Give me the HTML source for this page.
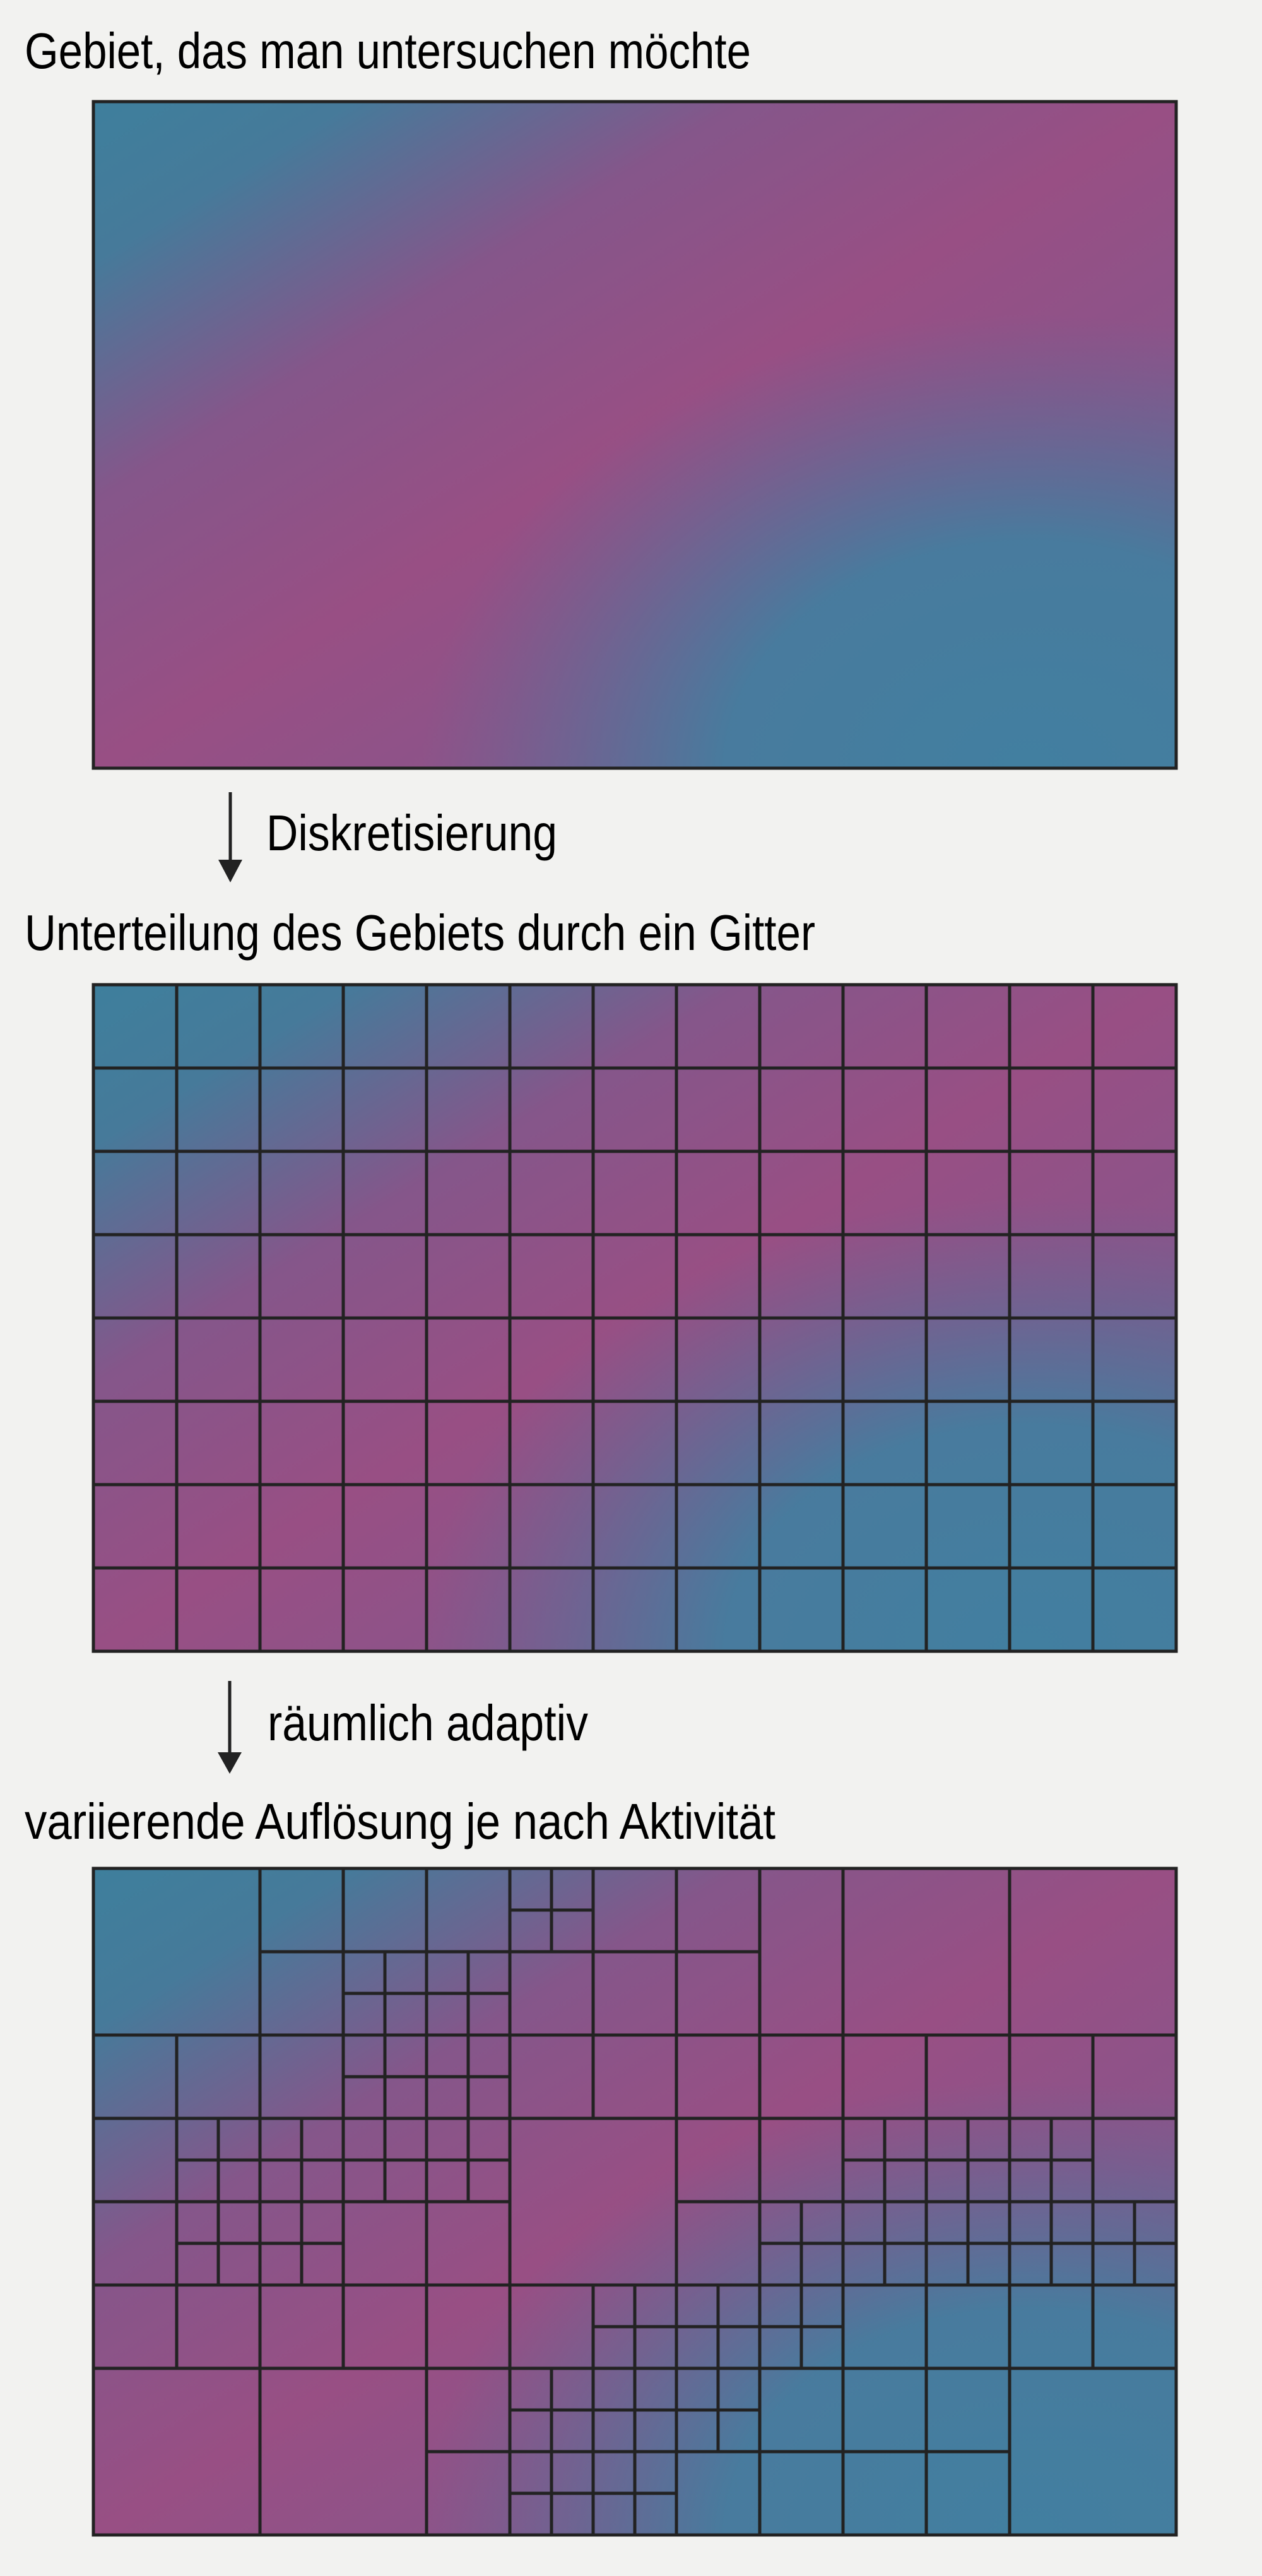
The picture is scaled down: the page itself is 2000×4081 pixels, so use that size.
<!DOCTYPE html>
<html><head><meta charset="utf-8"><style>
html,body{margin:0;padding:0;background:#f2f2f0;}
svg{display:block;}
text{font-family:"Liberation Sans Narrow","Liberation Sans",sans-serif;fill:#000;}
</style></head><body>
<svg width="2000" height="4081" viewBox="0 0 2000 4081" xmlns="http://www.w3.org/2000/svg">
<defs>
<linearGradient id="g" x1="0" y1="0" x2="1" y2="1">
<stop offset="0" stop-color="#3e7f9c"/>
<stop offset="0.12" stop-color="#467a9a"/>
<stop offset="0.3" stop-color="#85568a"/>
<stop offset="0.5" stop-color="#984f84"/>
<stop offset="0.7" stop-color="#8a548a"/>
<stop offset="1" stop-color="#6a6190"/>
</linearGradient>
<radialGradient id="r" gradientUnits="userSpaceOnUse" cx="0" cy="0" r="1" gradientTransform="translate(1480 1056) scale(960 720)">
<stop offset="0" stop-color="#427fa0" stop-opacity="1"/>
<stop offset="0.5" stop-color="#437e9f" stop-opacity="0.92"/>
<stop offset="1" stop-color="#5a6c96" stop-opacity="0"/>
</radialGradient>
</defs>
<rect width="2000" height="4081" fill="#f2f2f0"/>

<text x="39" y="108" font-size="80" textLength="1151" lengthAdjust="spacingAndGlyphs">Gebiet, das man untersuchen möchte</text>
<g transform="translate(148,161)">
<rect width="1716" height="1056" fill="url(#g)"/>
<rect width="1716" height="1056" fill="url(#r)"/>
<rect width="1716" height="1056" fill="none" stroke="#222" stroke-width="5"/>
</g>

<line x1="365" y1="1255" x2="365" y2="1370" stroke="#222" stroke-width="5"/>
<polygon points="346,1362 384,1362 365,1398" fill="#222"/>
<text x="422" y="1347" font-size="80" textLength="461" lengthAdjust="spacingAndGlyphs">Diskretisierung</text>

<text x="39" y="1505" font-size="80" textLength="1253" lengthAdjust="spacingAndGlyphs">Unterteilung des Gebiets durch ein Gitter</text>
<g transform="translate(148,1560)">
<rect width="1716" height="1056" fill="url(#g)"/>
<rect width="1716" height="1056" fill="url(#r)"/>
<path stroke="#222" stroke-width="5" fill="none" d="M132 0v1056M264 0v1056M396 0v1056M528 0v1056M660 0v1056M792 0v1056M924 0v1056M1056 0v1056M1188 0v1056M1320 0v1056M1452 0v1056M1584 0v1056M0 132h1716M0 264h1716M0 396h1716M0 528h1716M0 660h1716M0 792h1716M0 924h1716"/>
<rect width="1716" height="1056" fill="none" stroke="#222" stroke-width="5"/>
</g>

<line x1="364" y1="2663" x2="364" y2="2785" stroke="#222" stroke-width="5"/>
<polygon points="345,2776 383,2776 364,2810" fill="#222"/>
<text x="424" y="2757" font-size="80" textLength="508" lengthAdjust="spacingAndGlyphs">räumlich adaptiv</text>

<text x="39" y="2913" font-size="80" textLength="1190" lengthAdjust="spacingAndGlyphs">variierende Auflösung je nach Aktivität</text>
<g transform="translate(148,2960)" stroke="#222" stroke-width="5" fill="none">
<rect width="1716" height="1056" fill="url(#g)" stroke="none"/>
<rect width="1716" height="1056" fill="url(#r)" stroke="none"/>
<rect x="0" y="0" width="264" height="264"/>
<rect x="1188" y="0" width="264" height="264"/>
<rect x="1452" y="0" width="264" height="264"/>
<rect x="660" y="396" width="264" height="264"/>
<rect x="0" y="792" width="264" height="264"/>
<rect x="264" y="792" width="264" height="264"/>
<rect x="1452" y="792" width="264" height="264"/>
<path d="M264 0h792v264h-792zM396 0v264M528 0v264M660 0v264M792 0v264M924 0v264M264 132h792"/>
<path d="M0 264h1716M0 396h660M924 396h792M0 528h660M924 528h792M0 660h1716M0 792h1716"/>
<path d="M132 264v528M264 264v528M396 264v528M528 264v528M660 264v528M792 264v132M924 264v528M1056 264v528M1188 264v528M1320 264v528M1452 264v528M1584 264v528M792 660v132"/>
<path d="M528 792v264M660 792v264M792 792v264M924 792v264M1056 792v264M1188 792v264M1320 792v264M528 924h924"/>
<path d="M726 0v132M660 66h132
M462 132v132M396 198h132
M594 132v132M528 198h132
M462 264v132M396 330h132
M594 264v132M528 330h132
M198 396v132M132 462h132
M330 396v132M264 462h132
M462 396v132M396 462h132
M594 396v132M528 462h132
M1254 396v132M1188 462h132
M1386 396v132M1320 462h132
M1518 396v132M1452 462h132
M198 528v132M132 594h132
M330 528v132M264 594h132
M1122 528v132M1056 594h132
M1254 528v132M1188 594h132
M1386 528v132M1320 594h132
M1518 528v132M1452 594h132
M1650 528v132M1584 594h132
M858 660v132M792 726h132
M990 660v132M924 726h132
M1122 660v132M1056 726h132
M726 792v132M660 858h132
M858 792v132M792 858h132
M990 792v132M924 858h132
M726 924v132M660 990h132
M858 924v132M792 990h132"/>
<rect width="1716" height="1056"/>
</g>
</svg>
</body></html>
